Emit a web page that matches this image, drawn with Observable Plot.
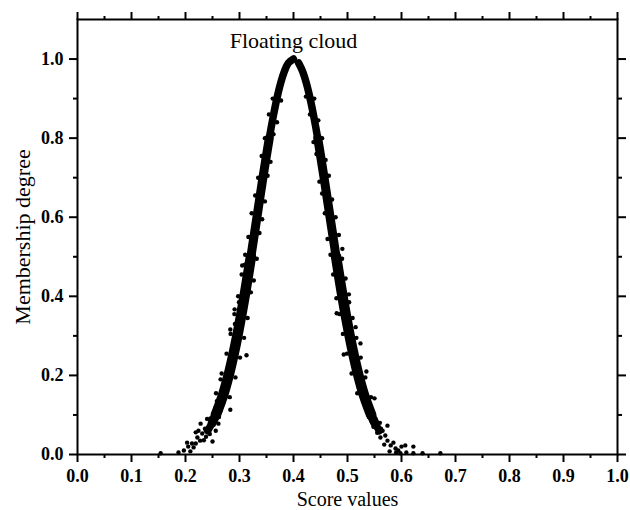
<!DOCTYPE html>
<html>
<head>
<meta charset="utf-8">
<script src="https://cdn.jsdelivr.net/npm/d3@7"></script>
<script src="https://cdn.jsdelivr.net/npm/@observablehq/plot@0.6"></script>
<style>
  html, body { margin: 0; padding: 0; background: #fff; }
  #chart { width: 630px; height: 510px; }
</style>
</head>
<body>
<div id="chart"></div>
<script>
// Dense core of the cloud (centre of the band)
const coreY = [0.06,0.08,0.1,0.15,0.2,0.25,0.3,0.35,0.4,0.45,0.5,0.55,0.6,0.65,0.7,0.75,0.8,0.85,0.9,0.94,0.97,0.99,1.0,
               0.99,0.97,0.94,0.9,0.85,0.8,0.75,0.7,0.65,0.6,0.55,0.5,0.45,0.4,0.35,0.3,0.25,0.2,0.15,0.1,0.08,0.06];
const coreX = [0.241,0.2494,0.2562,0.2695,0.2798,0.2884,0.2960,0.3029,0.3093,0.3153,0.3211,0.3267,0.3323,0.3378,0.3434,0.3492,0.3552,0.3618,0.3692,0.3764,0.3835,0.3905,0.4000,
               0.4095,0.4165,0.4236,0.4308,0.4382,0.4448,0.4508,0.4566,0.4622,0.4677,0.4733,0.4789,0.4847,0.4907,0.4971,0.5040,0.5116,0.5202,0.5305,0.5438,0.5506,0.559];

// Scattered cloud drops at the edges and tails
const dropX = [
  0.3615,0.3770,0.3545,0.3695,0.3470,0.3630,0.3410,0.3575,0.3345,0.3520,0.3290,0.3470,0.3225,0.3420,0.3165,0.3370,
  0.3105,0.3320,0.3100,0.3040,0.3265,0.2975,0.3210,0.2990,0.2905,0.3150,0.2915,0.2835,0.3085,0.2830,0.2760,0.3010,0.3130,
  0.2670,0.2925,0.2650,0.2565,0.2820,0.2740,
  0.265,0.283,0.256,0.252,0.246,0.261,0.256,0.243,0.228,0.231,0.234,0.25,0.219,0.222,0.219,0.203,0.209,0.197,0.187,0.154,
  0.212,0.224,0.238,0.245,0.262,0.27,0.258,0.248,0.24,0.236,0.227,0.215,0.205,0.291,0.305,
  0.4385,0.4230,0.4460,0.4305,0.4530,0.4370,0.4595,0.4425,0.4655,0.4480,0.4715,0.4530,0.4780,0.4580,0.4840,0.4630,
  0.4900,0.4685,0.4905,0.4965,0.4735,0.5025,0.4795,0.5030,0.5095,0.4850,0.480,0.5165,0.4915,0.515,0.524,0.5245,0.4990,0.493,
  0.5330,0.5075,0.535,0.5435,0.5180,0.55,
  0.535,0.545,0.552,0.54,0.56,0.548,0.574,0.565,0.555,0.561,0.574,0.57,0.58,0.585,0.589,0.594,0.6,0.607,0.609,0.622,0.622,
  0.639,0.672,0.578,0.568,0.59,0.598,0.562,0.545
];
const dropY = [
  0.90,0.895,0.86,0.84,0.80,0.81,0.755,0.74,0.70,0.705,0.655,0.64,0.61,0.595,0.55,0.56,
  0.505,0.495,0.48,0.455,0.44,0.40,0.41,0.385,0.355,0.345,0.33,0.305,0.295,0.316,0.255,0.245,0.251,
  0.205,0.195,0.19,0.155,0.145,0.144,
  0.111,0.113,0.12,0.104,0.091,0.078,0.06,0.069,0.078,0.053,0.036,0.033,0.056,0.043,0.028,0.03,0.008,0.01,0.005,0.003,
  0.028,0.06,0.045,0.052,0.095,0.13,0.135,0.082,0.09,0.065,0.035,0.018,0.02,0.367,0.478,
  0.90,0.905,0.845,0.86,0.80,0.79,0.745,0.76,0.705,0.69,0.645,0.66,0.60,0.61,0.555,0.545,
  0.495,0.505,0.52,0.445,0.455,0.405,0.395,0.385,0.345,0.355,0.357,0.295,0.305,0.322,0.281,0.245,0.255,0.253,
  0.195,0.205,0.21,0.145,0.155,0.142,
  0.12,0.105,0.09,0.095,0.08,0.07,0.073,0.06,0.055,0.043,0.035,0.048,0.023,0.03,0.015,0.01,0.02,0.023,0.005,0.02,0.003,
  0.003,0.003,0.008,0.025,0.005,0.003,0.065,0.082
];

const xMajor = [0,0.1,0.2,0.3,0.4,0.5,0.6,0.7,0.8,0.9,1.0];
const xMinor = [0.05,0.15,0.25,0.35,0.45,0.55,0.65,0.75,0.85,0.95];
const yMajor = [0,0.2,0.4,0.6,0.8,1.0];
const yMinor = [0.1,0.3,0.5,0.7,0.9];
const annotation = [{x: 0.4, y: 1.045, text: "Floating cloud"}];

const core = coreX.map((x, i) => ({x, y: coreY[i], side: i <= 22 ? "L" : "R"}));
const drops = dropX.map((x, i) => ({x, y: dropY[i]}));

const serif = "'Liberation Serif', 'Times New Roman', serif";
const fmt = d3.format(".1f");
const blank = () => "";

const chart = Plot.plot({
  width: 630,
  height: 510,
  marginLeft: 77,
  marginRight: 13,
  marginTop: 19,
  marginBottom: 56,
  style: {fontFamily: serif, background: "#fff", color: "#000", overflow: "visible"},
  x: {domain: [0, 1.0], label: null},
  y: {domain: [0, 1.1], label: null},
  marks: [
    Plot.line(core, {x: "x", y: "y", z: "side", stroke: "#000", strokeWidth: 7.5, curve: "catmull-rom", strokeLinecap: "round", strokeLinejoin: "round"}),
    Plot.line(core.filter(d => d.y <= 0.8 && d.y >= 0.08), {x: "x", y: "y", z: "side", stroke: "#000", strokeWidth: 9, curve: "catmull-rom", strokeLinecap: "round"}),
    Plot.line(core.filter(d => d.y <= 0.5 && d.y >= 0.1), {x: "x", y: "y", z: "side", stroke: "#000", strokeWidth: 10.5, curve: "catmull-rom", strokeLinecap: "round"}),
    Plot.dot(drops, {x: "x", y: "y", r: 2.2, fill: "#000", stroke: null}),
    Plot.frame({stroke: "#000", strokeWidth: 2}),
    Plot.axisX({ticks: xMajor, tickSize: 8, tickPadding: 7, tickFormat: fmt, fontSize: 18, fontWeight: "bold", strokeWidth: 2, label: null}),
    Plot.axisX({ticks: xMinor, tickSize: 4, tickFormat: blank, strokeWidth: 2, label: null}),
    Plot.axisX({anchor: "top", ticks: xMajor, tickSize: 8, tickFormat: blank, strokeWidth: 2, label: null}),
    Plot.axisX({anchor: "top", ticks: xMinor, tickSize: 4, tickFormat: blank, strokeWidth: 2, label: null}),
    Plot.axisY({ticks: yMajor, tickSize: 8, tickPadding: 6, tickFormat: fmt, fontSize: 18, fontWeight: "bold", strokeWidth: 2, label: null}),
    Plot.axisY({ticks: yMinor, tickSize: 4, tickFormat: blank, strokeWidth: 2, label: null}),
    Plot.axisY({anchor: "right", ticks: yMajor, tickSize: 8, tickFormat: blank, strokeWidth: 2, label: null}),
    Plot.axisY({anchor: "right", ticks: yMinor, tickSize: 4, tickFormat: blank, strokeWidth: 2, label: null}),
    Plot.text(annotation, {x: "x", y: "y", text: "text", fontSize: 22, fill: "#000", textAnchor: "middle"}),
    Plot.text(["Score values"], {frameAnchor: "bottom", lineAnchor: "middle", dy: 45, fontSize: 20, fill: "#000"}),
    Plot.text(["Membership degree"], {frameAnchor: "left", textAnchor: "middle", lineAnchor: "middle", dx: -55, rotate: -90, fontSize: 22, fill: "#000"})
  ]
});
document.getElementById("chart").appendChild(chart);
</script>
</body>
</html>
